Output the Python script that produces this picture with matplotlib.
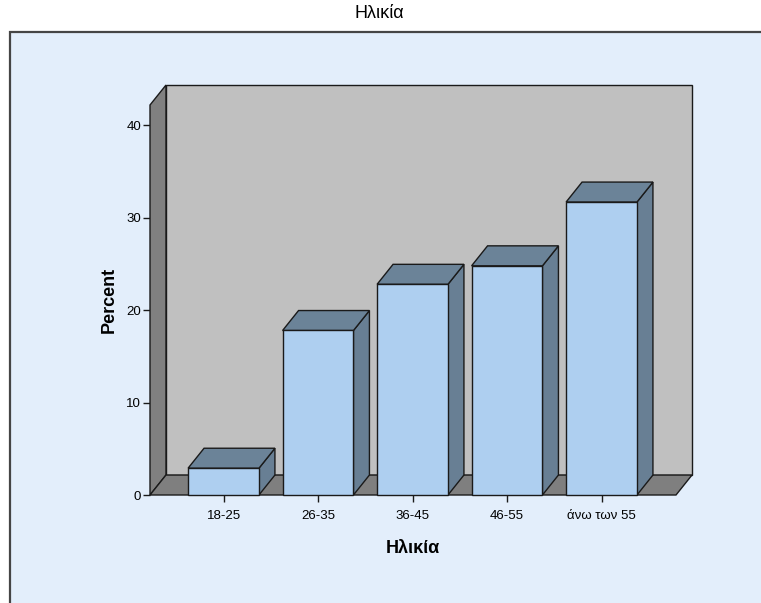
import matplotlib.pyplot as plt
from matplotlib.patches import Polygon, Rectangle

plt.rcParams['font.family'] = ['Liberation Sans', 'DejaVu Sans']

categories = ["18-25", "26-35", "36-45", "46-55", "άνω των 55"]
percent = [2.9, 17.8, 22.8, 24.8, 31.7]
yticks = [0, 10, 20, 30, 40]

W, H = 761, 603
fig = plt.figure(figsize=(W / 100, H / 100), dpi=100, facecolor="white")

# outer chart frame
fig.patches.append(Rectangle((10 / W, -0.02), 1.05, (H - 32) / H + 0.02,
                             transform=fig.transFigure, facecolor="#e3eefb",
                             edgecolor="#454545", linewidth=1.6, zorder=-5))
fig.text(379 / W, 1 - 13 / H, "Ηλικία", ha="center", va="center", fontsize=13)

# axes = front plane of the 3d box
ax = fig.add_axes([150 / W, 108 / H, 526 / W, 390 / H])
ax.set_zorder(1)
ax.patch.set_visible(False)
x0, x1 = -0.778, 4.788
ytop = 42.2
ax.set_xlim(x0, x1)
ax.set_ylim(0, ytop)
for s in ax.spines.values():
    s.set_visible(False)

dx, dy = 0.169, 2.16  # depth offset
ec = "#1a1a1a"
lw = 1.0

ax.add_patch(Rectangle((x0 + dx, dy), x1 - x0, ytop, facecolor="#c0c0c0",
                       edgecolor=ec, lw=lw, clip_on=False, zorder=1))
ax.add_patch(Polygon([(x0, 0), (x0 + dx, dy), (x0 + dx, ytop + dy), (x0, ytop)],
                     facecolor="#808080", edgecolor=ec, lw=lw, clip_on=False, zorder=2))
ax.add_patch(Polygon([(x0, 0), (x1, 0), (x1 + dx, dy), (x0 + dx, dy)],
                     facecolor="#7f7f7f", edgecolor=ec, lw=lw, clip_on=False, zorder=2))

bw = 0.75
for i, h in enumerate(percent):
    xl, xr = i - bw / 2, i + bw / 2
    ax.add_patch(Polygon([(xr, 0), (xr + dx, dy), (xr + dx, h + dy), (xr, h)],
                         facecolor="#687f94", edgecolor=ec, lw=lw, clip_on=False, zorder=3))
    ax.add_patch(Polygon([(xl, h), (xr, h), (xr + dx, h + dy), (xl + dx, h + dy)],
                         facecolor="#6b8398", edgecolor=ec, lw=lw, clip_on=False, zorder=3))
    ax.add_patch(Rectangle((xl, 0), bw, h, facecolor="#aecff0",
                           edgecolor=ec, lw=lw, clip_on=False, zorder=4))

ax.set_xticks(range(len(categories)))
ax.set_xticklabels(categories)
ax.set_yticks(yticks)
ax.tick_params(axis="both", labelsize=9.5, length=5, width=1, color="#1a1a1a")
ax.tick_params(axis="x", pad=6)
ax.tick_params(axis="y", pad=1.5)

ax.set_xlabel("Ηλικία", fontsize=13, fontweight="bold", labelpad=13)
ax.set_ylabel("Percent", fontsize=13, fontweight="bold", labelpad=6)

fig.savefig("out.png", dpi=100)
